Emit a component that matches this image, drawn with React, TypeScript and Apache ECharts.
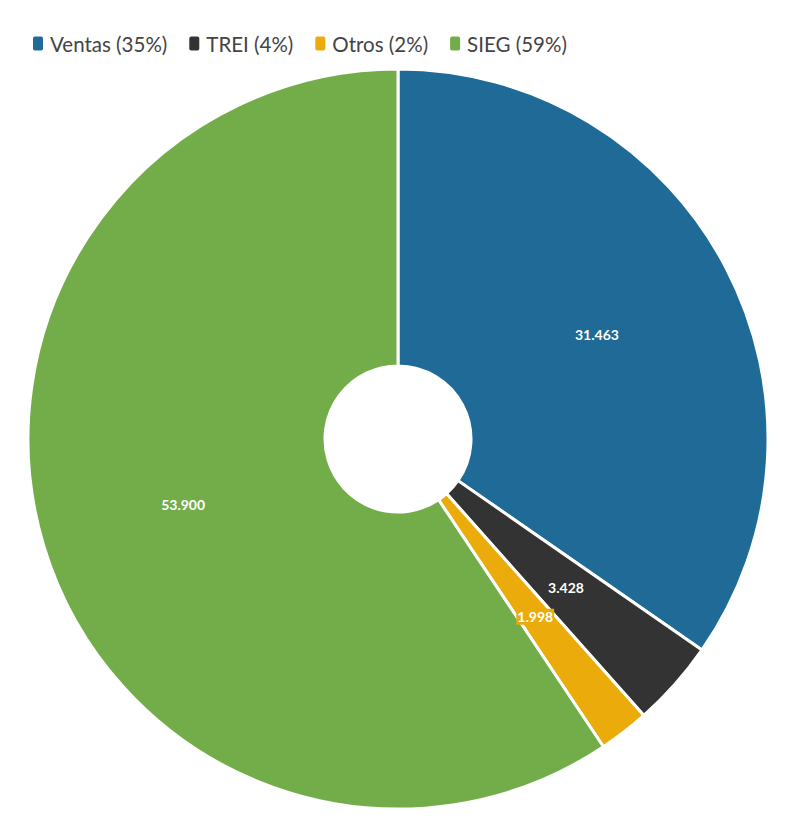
import React, { useEffect, useRef } from "react";
import * as echarts from "echarts";

const categories = ["Ventas", "TREI", "Otros", "SIEG"];
const values = [31463, 3428, 1998, 53900];
const percents = [35, 4, 2, 59];
const labels = ["31.463", "3.428", "1.998", "53.900"];
const colors = ["#1f6a96", "#333333", "#eaab0b", "#72ad4a"];

export default function App() {
  const ref = useRef<HTMLDivElement>(null);
  useEffect(() => {
    if (!ref.current) return;
    const chart = echarts.init(ref.current, undefined, { renderer: "svg" });
    const data = categories.map((c, i) => ({
      name: c,
      value: values[i],
      itemStyle: { color: colors[i] },
      label: {
        formatter: labels[i],
        ...(c === "Otros" ? { backgroundColor: colors[i], padding: [1, 1] } : {}),
      },
    }));
    const pctMap: Record<string, number> = {};
    categories.forEach((c, i) => (pctMap[c] = percents[i]));
    chart.setOption({
      animation: false,
      legend: {
        left: 28,
        top: 28,
        itemWidth: 10,
        itemHeight: 14,
        itemGap: 22,
        icon: "path://M2,0 L8,0 Q10,0 10,2 L10,12 Q10,14 8,14 L2,14 Q0,14 0,12 L0,2 Q0,0 2,0 Z",
        itemStyle: { borderWidth: 0 },
        formatter: (n: string) => `${n} (${pctMap[n]}%)`,
        textStyle: {
          fontFamily: "Lato",
          fontSize: 20.5,
          color: "#444444",
          padding: [0, 0, 0, 2],
        },
      },
      series: [
        {
          type: "pie",
          center: [398, 439],
          radius: [73, 370],
          startAngle: 90,
          clockwise: true,
          data,
          itemStyle: { borderColor: "#ffffff", borderWidth: 3 },
          label: {
            show: true,
            position: "inside",
            color: "#ffffff",
            fontFamily: "Lato",
            fontWeight: "bold",
            fontSize: 14,
          },
          labelLine: { show: false },
          emphasis: { disabled: true },
        },
      ],
    });
    return () => chart.dispose();
  }, []);
  return (
    <div
      ref={ref}
      style={{ position: "absolute", left: 0, top: 0, width: 796, height: 839 }}
    />
  );
}
